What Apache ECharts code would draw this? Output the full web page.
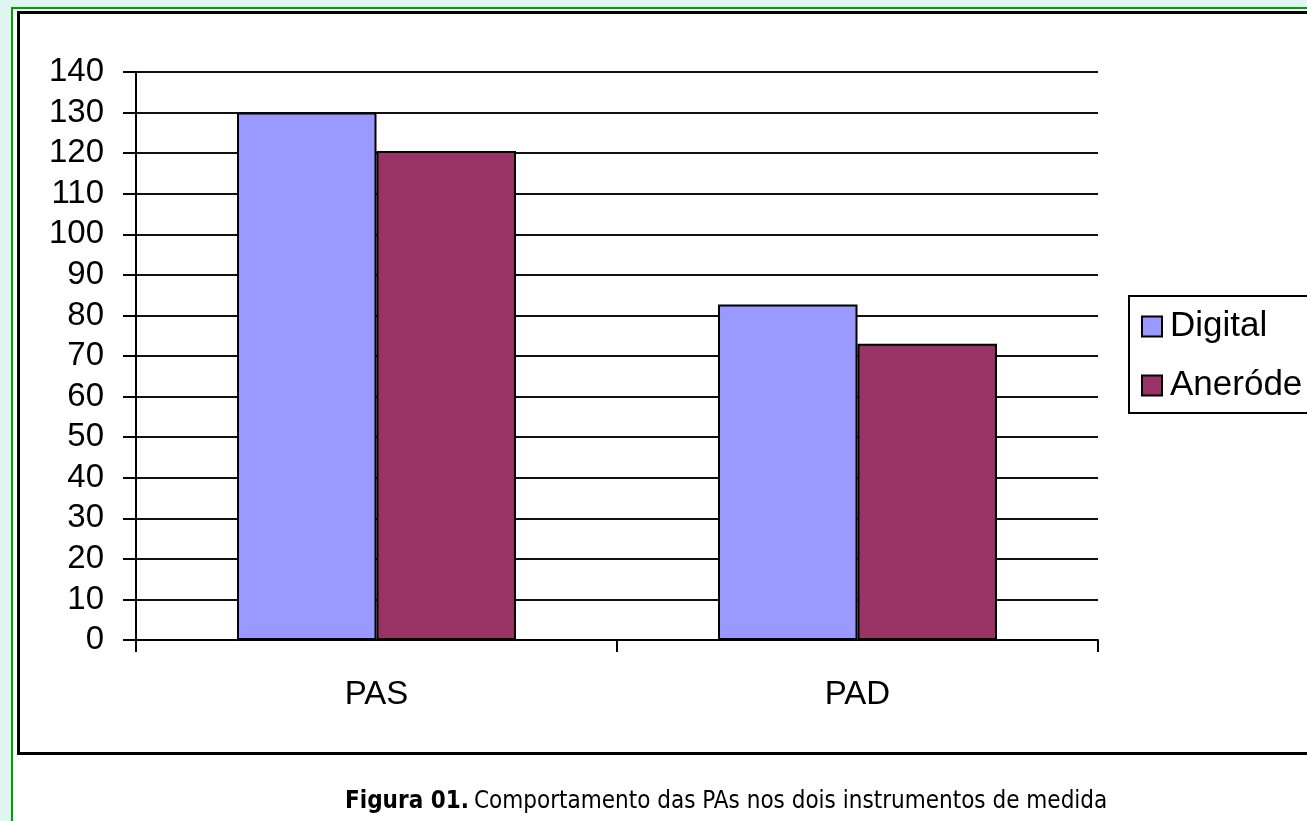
<!DOCTYPE html>
<html>
<head>
<meta charset="utf-8">
<script src="https://cdn.jsdelivr.net/npm/echarts@6/dist/echarts.min.js"></script>
<style>
  html, body { margin: 0; padding: 0; background: #dff5f0; }
  #frame {
    position: absolute; left: 11px; top: 7px; right: 0; bottom: 0;
    border-left: 2px solid #00a000; border-top: 2px solid #00a000;
    background: #fff;
  }
  #box {
    position: absolute; left: 17px; top: 11px; right: -10px; height: 738px;
    border: 3px solid #000;
  }
  #chart { position: absolute; left: 0; top: 0; width: 1307px; height: 821px; }
</style>
</head>
<body>
<div id="frame"></div>
<div id="box"></div>
<div id="chart"></div>
<script>
// categorias e nomes das series
var categorias = ['PAS', 'PAD'];
var nomes = ['Digital', 'Aneróde'];

// valores por serie (mmHg)
var serieDigital = [130, 82.7];
var serieAneroide = [120.5, 73];

var myChart = echarts.init(document.getElementById('chart'));
var fonte = '"Liberation Sans", Arial, sans-serif';
var fonteLegenda = '"DejaVu Sans Condensed", sans-serif';
var option = {
  animation: false,
  backgroundColor: 'transparent',
  title: {
    text: '{b|Figura 01.} {n|Comportamento das PAs nos dois instrumentos de medida}',
    left: 340,
    top: 785,
    textStyle: {
      rich: {
        b: { fontFamily: fonteLegenda, fontWeight: 'bold', fontSize: 24, color: '#000' },
        n: { fontFamily: fonteLegenda, fontWeight: 'normal', fontSize: 24, color: '#000' }
      }
    }
  },
  legend: {
    orient: 'vertical',
    left: 1129,
    top: 296,
    padding: [13, 12, 10, 12],
    itemWidth: 20,
    itemHeight: 20,
    itemGap: 24,
    borderColor: '#000',
    borderWidth: 2,
    icon: 'rect',
    textStyle: { fontFamily: fonte, fontSize: 35, color: '#000', padding: [0, 0, 0, 3] },
    data: nomes
  },
  grid: { left: 136, right: 209, top: 72, bottom: 181 },
  xAxis: {
    type: 'category',
    data: categorias,
    axisLine: { lineStyle: { color: '#000', width: 2 } },
    axisTick: { show: true, length: 12, lineStyle: { color: '#000', width: 2 } },
    axisLabel: { fontFamily: fonte, fontSize: 33, color: '#000', margin: 38 }
  },
  yAxis: {
    type: 'value',
    min: 0,
    max: 140,
    interval: 10,
    axisLine: { show: true, lineStyle: { color: '#000', width: 2 } },
    axisTick: { show: true, length: 13, lineStyle: { color: '#000', width: 2 } },
    axisLabel: { fontFamily: fonte, fontSize: 33, color: '#000', margin: 32 },
    splitLine: { lineStyle: { color: '#111', width: 2 } }
  },
  series: [
    {
      name: nomes[0],
      type: 'bar',
      data: serieDigital,
      barWidth: '29%',
      barGap: '0%',
      itemStyle: { color: '#9999ff', borderColor: '#000', borderWidth: 2 }
    },
    {
      name: nomes[1],
      type: 'bar',
      data: serieAneroide,
      barWidth: '29%',
      itemStyle: { color: '#993366', borderColor: '#000', borderWidth: 2 }
    }
  ]
};
myChart.setOption(option);
</script>
</body>
</html>
